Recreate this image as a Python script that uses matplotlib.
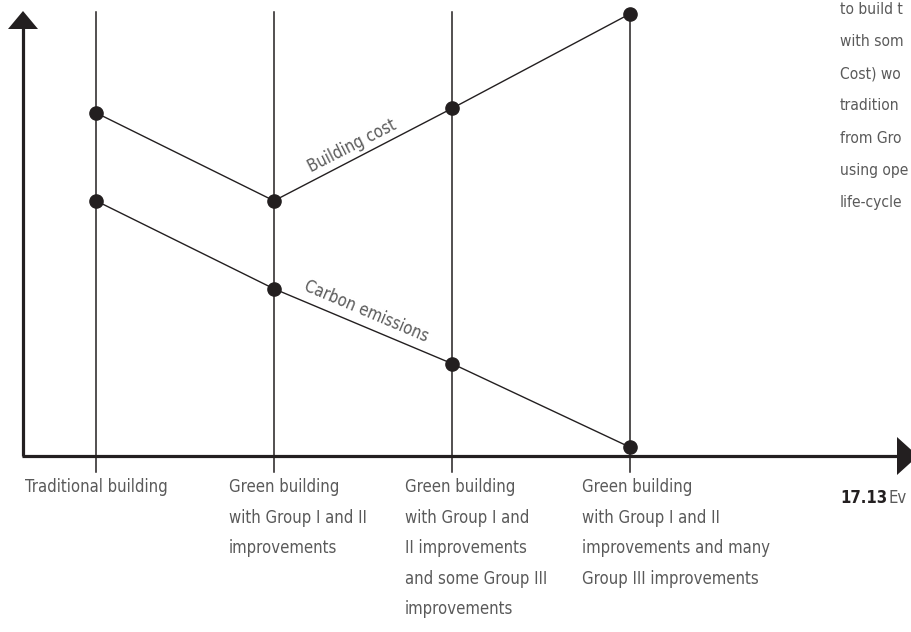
import matplotlib.pyplot as plt
from matplotlib import font_manager

# categories along the horizontal axis
categories = [
    "Traditional building",
    "Green building\nwith Group I and II\nimprovements",
    "Green building\nwith Group I and\nII improvements\nand some Group III\nimprovements",
    "Green building\nwith Group I and II\nimprovements and many\nGroup III improvements",
]
# relative levels (arbitrary units)
building_cost = [7.8, 5.8, 7.9, 10.05]
carbon_emissions = [5.8, 3.8, 2.1, 0.2]

# text running in from the right edge (cut off in the original)
side_text = ["to build t", "with som", "Cost) wo", "tradition",
             "from Gro", "using ope", "life-cycle"]

# pick a narrow face if one is there
fonts = font_manager.fontManager.ttflist
FONT, STRETCH = "DejaVu Sans", "normal"
if any(f.name == "Liberation Sans Narrow" for f in fonts):
    FONT = "Liberation Sans Narrow"
elif any(f.name == "DejaVu Sans" and f.stretch == "condensed" for f in fonts):
    STRETCH = "condensed"
INK = "#231f20"
GREY = "#5a5a5a"
FS = 12 if FONT != "DejaVu Sans" or STRETCH == "condensed" else 10.5

# pixel helpers (figure is 911x632 px, the axes fill it)
PX_X0, PX_UX = 96, 178.0
PX_Y0, PX_UY = 456, 44.0


def dx(px):
    return (px - PX_X0) / PX_UX


def dy(py):
    return (PX_Y0 - py) / PX_UY


fig = plt.figure(figsize=(9.11, 6.32), dpi=100)
ax = fig.add_axes([0, 0, 1, 1])
ax.set_xlim(dx(0), dx(911))
ax.set_ylim(dy(632), dy(0))
ax.axis("off")

xs = list(range(len(categories)))
txt = dict(family=FONT, stretch=STRETCH, fontsize=FS, color=GREY)

# vertical category lines, with ticks below the axis
for i in xs:
    ax.plot([i, i], [dy(472), dy(12)], color=INK, lw=1.1, zorder=1)

# axes with arrowheads
ax.plot([dx(23), dx(23)], [0, dy(26)], color=INK, lw=2.3, zorder=2, solid_capstyle="butt")
ax.plot([dx(22), dx(900)], [0, 0], color=INK, lw=2.3, zorder=2, solid_capstyle="butt")
ax.fill([dx(8), dx(38), dx(23)], [dy(29), dy(29), dy(11)], color=INK, zorder=3, lw=0)
ax.fill([dx(897), dx(897), dx(918)], [dy(437), dy(475), 0], color=INK, zorder=3, lw=0)

# the two series
ax.plot(xs, building_cost, color=INK, lw=1.0, marker="o", ms=9.5, zorder=4)
ax.plot(xs, carbon_emissions, color=INK, lw=1.0, marker="o", ms=9.5, zorder=4)

ax.text(dx(352), dy(146), "Building cost", rotation=27, ha="center", va="center",
        rotation_mode="anchor", **txt)
ax.text(dx(366), dy(311), "Carbon emissions", rotation=-23, ha="center", va="center",
        rotation_mode="anchor", **txt)

# category labels
label_px = [25, 229, 405, 582]
for i, lab in enumerate(categories):
    ax.text(dx(label_px[i]), dy(478), lab, ha="left", va="top", linespacing=1.9, **txt)

# cropped caption and side text
ax.text(dx(840), dy(498), "17.13", ha="left", va="center", family=FONT, stretch=STRETCH,
        fontsize=FS, color=INK, weight="bold")
ax.text(dx(889), dy(498), "Ev", ha="left", va="center", **txt)
for k, line in enumerate(side_text):
    ax.text(dx(840), dy(9 + 32.3 * k), line, ha="left", va="center",
            family=FONT, stretch=STRETCH, fontsize=FS - 0.8, color=GREY)

fig.savefig("out.png", dpi=100)
